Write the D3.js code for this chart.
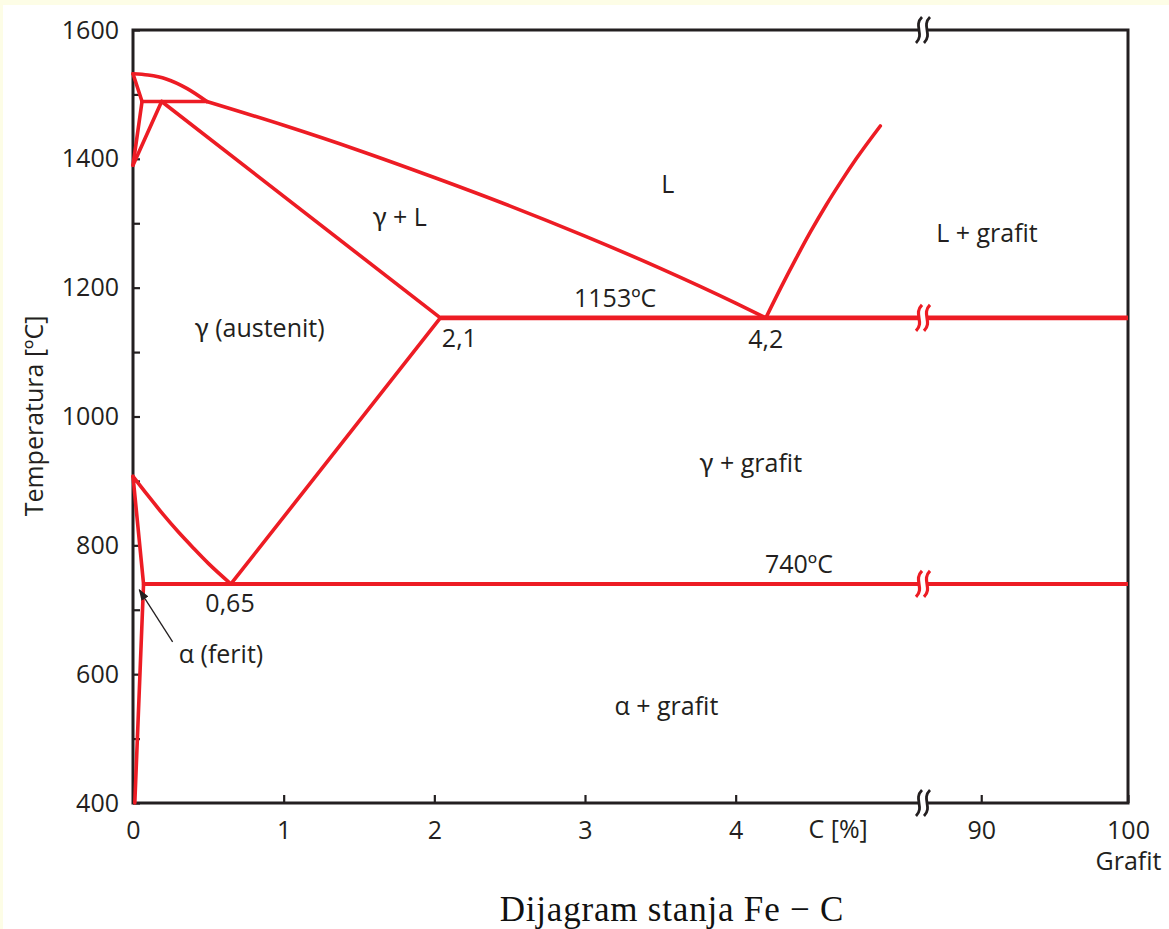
<!DOCTYPE html>
<html><head><meta charset="utf-8">
<script src="https://cdn.jsdelivr.net/npm/d3@7"></script>
<style>html,body{margin:0;padding:0;background:#fff;} svg{display:block} text{font-variant-ligatures:none;}</style>
</head><body>
<svg id="chart" width="1169" height="929"></svg>
<script>
// ---- data (C in %, T in °C) ----
const yTicksLabeled = [400, 600, 800, 1000, 1200, 1400, 1600];
const yTicksAll = [400, 500, 600, 700, 800, 900, 1000, 1100, 1200, 1300, 1400, 1500, 1600];
const xTicks = [0, 1, 2, 3, 4, 90, 100];
const xBreak = [5.25, 86.1];

const liquidusDelta = [[0, 1532], [0.1, 1530], [0.22, 1524], [0.36, 1509], [0.49, 1489]];
const liquidus = [[0.49, 1489], [1, 1452], [1.5, 1413], [2, 1371], [2.5, 1327], [3, 1280], [3.5, 1230], [4, 1176], [4.2, 1153]];
const peritectic = [[0.06, 1489], [0.49, 1489]];
const deltaSolidus = [[0, 1532], [0.06, 1489]];
const deltaSolvus = [[0.06, 1489], [0, 1390]];
const gammaDelta = [[0, 1390], [0.19, 1489]];
const solidus = [[0.19, 1489], [2.04, 1153]];
const eutectic = [[2.04, 1153], [100, 1153]];
const graphiteLiquidus = [[4.2, 1153], [4.3, 1200], [4.4, 1245], [4.5, 1288], [4.6, 1328], [4.7, 1365], [4.8, 1400], [4.96, 1451]];
const a3 = [[0, 907], [0.1, 877], [0.2, 848], [0.3, 821], [0.4, 796], [0.5, 772], [0.65, 740]];
const acm = [[0.65, 740], [2.04, 1153]];
const eutectoid = [[0.07, 740], [100, 740]];
const alphaSolvusTop = [[0, 907], [0.07, 740]];
const alphaSolvusBottom = [[0.07, 740], [0.012, 400]];

const phaseLabels = [
  {text: "L", c: 3.55, t: 1347},
  {text: "γ + L", c: 1.77, t: 1296},
  {text: "γ (austenit)", c: 0.84, t: 1123},
  {text: "1153ºC", c: 3.20, t: 1170},
  {text: "4,2", c: 4.20, t: 1106},
  {text: "0,65", c: 0.644, t: 697},
  {text: "α (ferit)", c: 0.584, t: 617},
  {text: "γ + grafit", c: 4.10, t: 914},
  {text: "740ºC", c: 4.42, t: 757},
  {text: "α + grafit", c: 3.54, t: 537},
  {text: "L + grafit", c: 90.39, t: 1271}
];
const startLabels = [{text: "2,1", c: 2.05, t: 1108}];
const ferritArrow = [[0.263, 650], [0.042, 731]];

// ---- layout ----
const W = 1169, H = 929;
const L = 133, R = 1128, T = 30, B = 803;
const RED = "#ed1c24", INK = "#231f20";
const FONT = "'Open Sans', Lato, sans-serif";
const GREEK = "Lato, 'DejaVu Sans', sans-serif";
const FS = 25;

const svg = d3.select("#chart");
svg.append("rect").attr("width", W).attr("height", H).attr("fill", "#fdfde6");
svg.append("rect").attr("x", 3).attr("y", 5).attr("width", W - 3).attr("height", H - 5).attr("fill", "#fff");

const x = d3.scaleLinear().domain([0, xBreak[0], xBreak[1], 100]).range([L, 924, 924, R]);
const y = d3.scaleLinear().domain([400, 1600]).range([B, T]);

// axes (ticks inward)
const yAxis = d3.axisLeft(y).tickValues(yTicksAll).tickSize(-7).tickPadding(14)
  .tickFormat(d => yTicksLabeled.includes(d) ? d : "");
const gy = svg.append("g").attr("transform", `translate(${L},0)`).call(yAxis);
const xAxis = d3.axisBottom(x).tickValues(xTicks).tickSize(-8).tickPadding(18).tickFormat(d => d);
const gx = svg.append("g").attr("transform", `translate(0,${B})`).call(xAxis);
[gx, gy].forEach(g => {
  g.select(".domain").remove();
  g.selectAll(".tick line").attr("stroke", INK).attr("stroke-width", 2.2);
  g.selectAll(".tick text").attr("fill", INK).style("font-family", FONT).style("font-size", FS + "px");
});
// "Grafit" under the 100 tick, as a second line of the same label
gx.selectAll(".tick").filter(d => d === 100).select("text")
  .append("tspan").attr("x", 0).attr("dy", "1.25em").text("Grafit");

// frame
svg.append("rect").attr("x", L).attr("y", T).attr("width", R - L).attr("height", B - T)
  .attr("fill", "none").attr("stroke", INK).attr("stroke-width", 3);

// phase boundaries
const lineLin = d3.line().x(d => x(d[0])).y(d => y(d[1]));
const lineCurve = d3.line().x(d => x(d[0])).y(d => y(d[1])).curve(d3.curveMonotoneX);
const curves = [liquidusDelta, liquidus, graphiteLiquidus, a3];
const straights = [peritectic, deltaSolidus, deltaSolvus, gammaDelta, solidus, acm, alphaSolvusTop, alphaSolvusBottom];
const gl = svg.append("g").attr("fill", "none").attr("stroke", RED).attr("stroke-linejoin", "round").attr("stroke-linecap", "round");
curves.forEach(d => gl.append("path").attr("d", lineCurve(d)).attr("stroke-width", 3.6));
straights.forEach(d => gl.append("path").attr("d", lineLin(d)).attr("stroke-width", 3.6));
gl.append("path").attr("d", lineLin(eutectic)).attr("stroke-width", 4.8).attr("stroke-linecap", "butt");
gl.append("path").attr("d", lineLin(eutectoid)).attr("stroke-width", 4).attr("stroke-linecap", "butt");

// break marks
const bx = x(xBreak[0]) - 1;
function breakMark(cy, color, sw) {
  svg.append("rect").attr("x", bx - 4).attr("y", cy - 4).attr("width", 8).attr("height", 8).attr("fill", "#fff");
  [-4, 4].forEach(o => {
    const cx = bx + o;
    svg.append("path")
      .attr("d", `M${cx - 3},${cy + 13} C${cx + 6},${cy + 4} ${cx - 6},${cy - 4} ${cx + 3},${cy - 13}`)
      .attr("fill", "none").attr("stroke", color).attr("stroke-width", sw);
  });
}
breakMark(T, INK, 2.8);
breakMark(B, INK, 2.8);
breakMark(y(eutectic[0][1]), RED, 3.2);
breakMark(y(eutectoid[0][1]), RED, 3.2);

// labels (Greek letters set in a font with a proper γ)
function addLabel(g, d, anchor) {
  const t = g.append("text").attr("x", x(d.c)).attr("y", y(d.t)).attr("text-anchor", anchor);
  const parts = d.text.split(/([γ])/).filter(s => s.length);
  parts.forEach(p => {
    const s = t.append("tspan").text(p);
    if (p === "γ") s.style("font-family", GREEK).style("font-size", (FS + 1) + "px");
  });
}
const gt = svg.append("g").attr("fill", INK).style("font-family", FONT).style("font-size", FS + "px");
phaseLabels.forEach(d => addLabel(gt, d, "middle"));
startLabels.forEach(d => addLabel(gt, d, "start"));

// arrow to ferrite
const defs = svg.append("defs");
defs.append("marker").attr("id", "ah").attr("viewBox", "0 0 10 10").attr("refX", 9).attr("refY", 5)
  .attr("markerWidth", 9).attr("markerHeight", 9).attr("orient", "auto")
  .append("path").attr("d", "M0,1.5 L10,5 L0,8.5 Z").attr("fill", INK);
svg.append("path").attr("d", lineLin(ferritArrow)).attr("stroke", INK).attr("stroke-width", 1.3)
  .attr("fill", "none").attr("marker-end", "url(#ah)");

// axis titles
gt.append("text").attr("x", x(4.68)).attr("y", 838).attr("text-anchor", "middle").text("C [%]");
gt.append("text").attr("transform", `translate(43,416) rotate(-90)`).attr("text-anchor", "middle").text("Temperatura [ºC]");

// caption
svg.append("text").attr("x", 672).attr("y", 921).attr("text-anchor", "middle")
  .attr("fill", "#111").style("font-family", "'Liberation Serif', 'DejaVu Serif', serif").style("font-size", "35px")
  .style("letter-spacing", "0.8px")
  .text("Dijagram stanja Fe − C");
</script>
</body></html>
